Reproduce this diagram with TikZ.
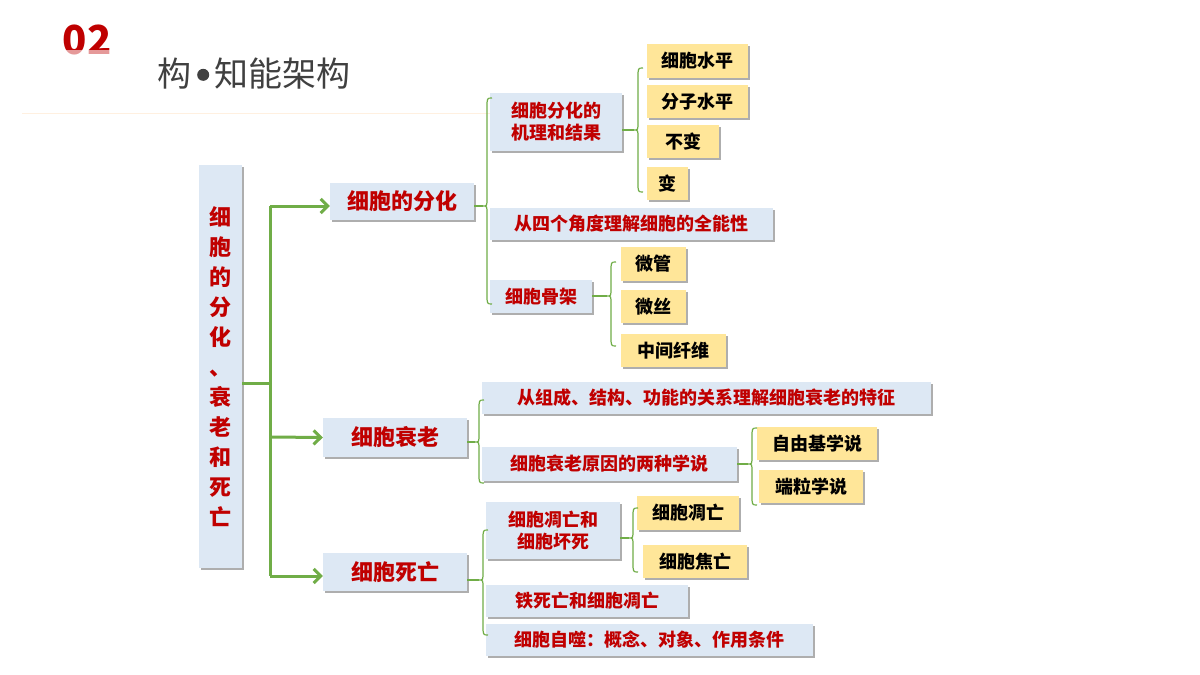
\documentclass[tikz,border=0pt]{standalone}
\usepackage{fontspec}
\setmainfont{Noto Sans CJK SC}
\usetikzlibrary{shadows,arrows.meta}
\definecolor{bluebox}{HTML}{DDE8F4}
\definecolor{yelbox}{HTML}{FFE699}
\definecolor{redtxt}{HTML}{C00000}
\definecolor{grn}{HTML}{70AD47}
\begin{document}
\begin{tikzpicture}[x=1pt,y=-1pt,
  base/.style={inner sep=0pt,font=\bfseries\fontsize{18}{22}\selectfont,drop shadow={shadow xshift=2pt,shadow yshift=-2pt,fill=black!45,opacity=0.7}},
  bb/.style={base,fill=bluebox,text=redtxt},
  yb/.style={base,fill=yelbox,text=black},
  l1/.style={bb,font=\bfseries\fontsize{22}{26}\selectfont},
  br/.style={draw=grn,line width=1.2pt},
  arr/.style={draw=grn,line width=3pt,-{Straight Barb[length=7pt,width=14pt,line width=3pt]}}
]
\useasboundingbox (0,0) rectangle (1200,675);
\fill[white] (0,0) rectangle (1200,675);
% title
\node[text=red!75!black,font=\bfseries\fontsize{40}{40}\selectfont] (n02) at (87,40) {02};
\fill[white,opacity=0.6] (50,50) rectangle (125,65);
\node[text=black!75,anchor=west,font=\fontsize{34}{36}\selectfont] (title) at (154,74) {构\,\raisebox{0.18em}{\tikz\fill[black!75] (0,0) circle (6pt);}\,知能架构};
\draw[orange!12,line width=1pt] (22,113) -- (490,113);
% root
\node[bb,minimum width=43,minimum height=403,font=\bfseries\fontsize{22}{30}\selectfont,align=center] (root) at (220.5,366.5)
 {细\\胞\\的\\分\\化\\、\\衰\\老\\和\\死\\亡};
% level 1
\node[l1,minimum width=144,minimum height=37] (a) at (402,201.5) {细胞的分化};
\node[l1,minimum width=144,minimum height=39] (b) at (395,437.5) {细胞衰老};
\node[l1,minimum width=144,minimum height=38] (c) at (395,572) {细胞死亡};
\coordinate (t0) at (270,383);
\draw[grn,line width=3pt] (root.east |- t0) -- (t0);
\draw[grn,line width=3pt] (270,206) -- (270,576);
\draw[arr] (270,206) -- (a.west |- 0,206);
\draw[arr] (270,437) -- (b.west);
\draw[arr] (270,576) -- (c.west |- 0,576);
% level 2 under a
\node[bb,minimum width=132,minimum height=58,align=center] (a1) at (556,122) {细胞分化的\\机理和结果};
\node[bb,minimum width=283,minimum height=32] (a2) at (631.5,224) {从四个角度理解细胞的全能性};
\node[bb,minimum width=102,minimum height=33] (a3) at (541,296.5) {细胞骨架};
\node[yb,minimum width=101,minimum height=34] (a11) at (697.5,61) {细胞水平};
\node[yb,minimum width=101,minimum height=33] (a12) at (697.5,101.5) {分子水平};
\node[yb,minimum width=72,minimum height=33] (a13) at (683,141.5) {不变};
\node[yb,minimum width=41,minimum height=33] (a14) at (667.5,183.5) {变};
\node[yb,minimum width=65,minimum height=34] (a31) at (653.5,264) {微管};
\node[yb,minimum width=65,minimum height=33] (a32) at (653.5,306.5) {微丝};
\node[yb,minimum width=105,minimum height=33] (a33) at (673.5,350.5) {中间纤维};
% level 2 under b
\node[bb,minimum width=449,minimum height=32] (b1) at (706.5,398) {从组成、结构、功能的关系理解细胞衰老的特征};
\node[bb,minimum width=255,minimum height=34] (b2) at (609.5,464) {细胞衰老原因的两种学说};
\node[yb,minimum width=120,minimum height=33] (b21) at (817,443.5) {自由基学说};
\node[yb,minimum width=104,minimum height=33] (b22) at (811,486.5) {端粒学说};
% level 2 under c
\node[bb,minimum width=134,minimum height=57,align=center] (c1) at (553,530.5) {细胞凋亡和\\细胞坏死};
\node[bb,minimum width=202,minimum height=32] (c2) at (587,601) {铁死亡和细胞凋亡};
\node[bb,minimum width=327,minimum height=32] (c3) at (649.5,640) {细胞自噬：概念、对象、作用条件};
\node[yb,minimum width=102,minimum height=34] (c11) at (688,513) {细胞凋亡};
\node[yb,minimum width=104,minimum height=33] (c12) at (695,561.5) {细胞焦亡};
% braces: from parent east to spine
\newcommand{\mybrace}[5]{% parent, x, top, mid, bottom
  \coordinate (m) at (#2,#4);
  \draw[br] (#1.east |- m) -- ([xshift=-4pt]m);
  \draw[br] (#2+5,#3) .. controls (#2,#3) .. (#2,#3+10) -- (#2,#4-8) .. controls (#2,#4) .. (#2-4,#4)
            .. controls (#2,#4) .. (#2,#4+8) -- (#2,#5-10) .. controls (#2,#5) .. (#2+5,#5);}
\mybrace{a}{487}{98}{206}{304}
\mybrace{a1}{638}{68}{130}{192}
\mybrace{a3}{611}{262}{296}{346}
\mybrace{b}{479}{400}{442}{483}
\mybrace{b2}{752}{428}{464}{505}
\mybrace{c}{483}{530}{580}{635}
\mybrace{c1}{633}{508}{538}{572}
\end{tikzpicture}
\end{document}
